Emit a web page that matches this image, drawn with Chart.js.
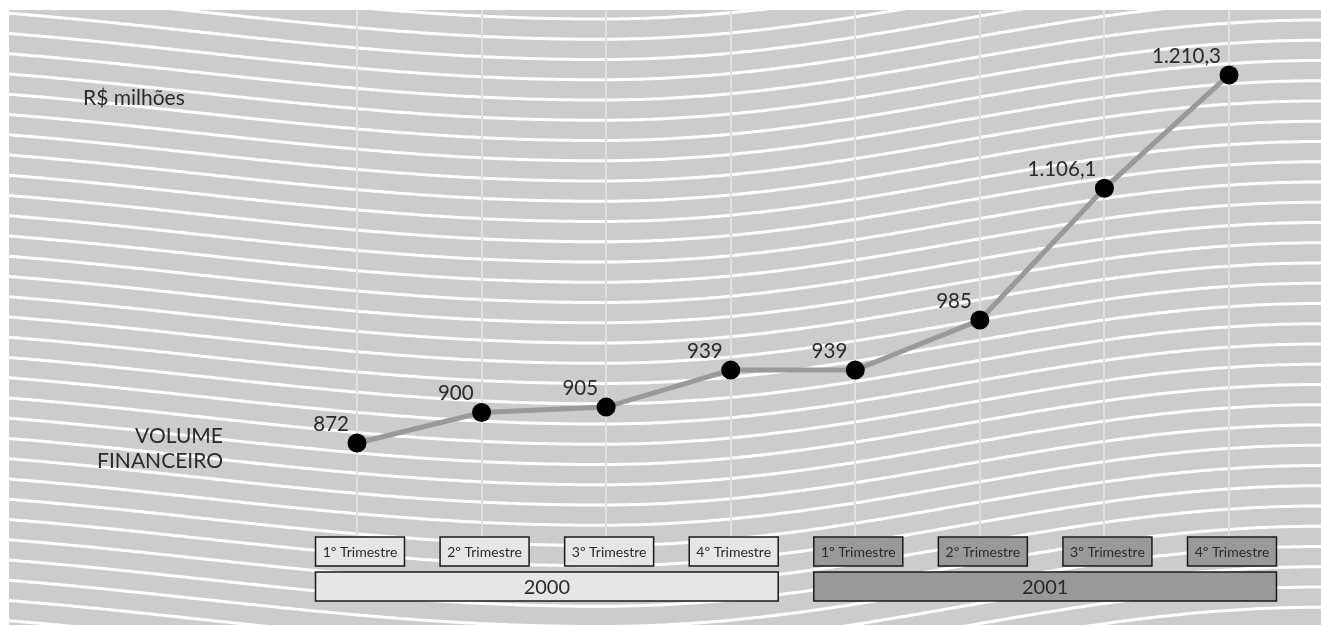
<!DOCTYPE html>
<html>
<head>
<meta charset="utf-8">
<script src="https://cdn.jsdelivr.net/npm/chart.js@4.4.1/dist/chart.umd.min.js"></script>
<style>
  html, body { margin: 0; padding: 0; background: #ffffff; }
  #c { display: block; }
</style>
</head>
<body>
<canvas id="c" width="1321" height="625"></canvas>
<script>
// ---- data ----
const quarters = ['1º Trimestre', '2º Trimestre', '3º Trimestre', '4º Trimestre',
                  '1º Trimestre', '2º Trimestre', '3º Trimestre', '4º Trimestre'];
const years = ['2000', '2001'];
const quartersPerYear = 4;
const volume = [872, 900, 905, 939, 939, 985, 1106.1, 1210.3];
const unitLabel = 'R$ milhões';
const seriesLabel = ['VOLUME', 'FINANCEIRO'];

const FONT = 'Lato, "Open Sans", "Noto Sans", sans-serif';
const TEXT = '#2a2a2a';

function fmtBR(v) {
  const neg = v < 0; v = Math.abs(v);
  let intPart = Math.floor(v), dec = Math.round((v - intPart) * 10);
  if (dec === 10) { intPart += 1; dec = 0; }
  const s = String(intPart).replace(/\B(?=(\d{3})+(?!\d))/g, '.');
  return (neg ? '-' : '') + s + (Number.isInteger(v) ? '' : ',' + dec);
}

function waveOff(x) {
  if (x < 600) {
    const u = Math.min((600 - x) / 800, 1);
    return -55 * (1 - Math.cos(Math.PI * u)) / 2;
  } else {
    const u = Math.min((x - 600) / 720, 1);
    return -80 * (1 - Math.cos(Math.PI * u)) / 2;
  }
}

const backgroundPlugin = {
  id: 'bg',
  beforeDraw(chart) {
    const ctx = chart.ctx;
    const W = chart.width, H = chart.height;
    ctx.save();
    ctx.fillStyle = '#ffffff';
    ctx.fillRect(0, 0, W, H);
    const rx = 9, ry = 10, rw = W - 9, rh = H - 10;
    ctx.fillStyle = '#cccccc';
    ctx.fillRect(rx, ry, rw, rh);
    ctx.beginPath();
    ctx.rect(rx, ry, rw, rh);
    ctx.clip();
    ctx.strokeStyle = '#ffffff';
    ctx.lineWidth = 3;
    for (let k = -2; k < 40; k++) {
      const c = 19 + 20.25 * k;
      ctx.beginPath();
      for (let x = 0; x <= W + 4; x += 4) {
        const y = c + waveOff(x);
        if (x === 0) ctx.moveTo(x, y); else ctx.lineTo(x, y);
      }
      ctx.stroke();
    }
    ctx.restore();
  }
};

const overlayPlugin = {
  id: 'overlay',
  afterDraw(chart) {
    const ctx = chart.ctx;
    const xs = chart.scales.x;
    const meta = chart.getDatasetMeta(0);
    ctx.save();

    // value labels
    ctx.fillStyle = TEXT;
    ctx.font = '20.5px ' + FONT;
    ctx.textAlign = 'right';
    ctx.textBaseline = 'middle';
    meta.data.forEach((pt, i) => {
      ctx.fillText(fmtBR(volume[i]), pt.x - 8, pt.y - 19);
    });

    // side texts
    ctx.font = '21px ' + FONT;
    ctx.textAlign = 'left';
    ctx.fillText(unitLabel, 83, 98);
    ctx.textAlign = 'right';
    ctx.fillText(seriesLabel[0], 223, 436);
    ctx.fillText(seriesLabel[1], 223, 461);

    // category boxes
    const bw = 89, bh = 29, btop = 537;
    const fills = ['#e6e6e6', '#999999'];
    ctx.lineWidth = 1.5;
    ctx.strokeStyle = '#1a1a1a';
    quarters.forEach((q, i) => {
      const cx = xs.getPixelForValue(i) + 3;
      const g = Math.floor(i / quartersPerYear);
      ctx.fillStyle = fills[g];
      ctx.fillRect(cx - bw / 2, btop, bw, bh);
      ctx.strokeRect(cx - bw / 2, btop, bw, bh);
      ctx.fillStyle = TEXT;
      ctx.font = '14px ' + FONT;
      ctx.textAlign = 'center';
      ctx.textBaseline = 'middle';
      ctx.fillText(q, cx, btop + bh / 2 + 1);
    });

    // year boxes
    const ytop = 572, yh = 29;
    years.forEach((y, g) => {
      const first = g * quartersPerYear, last = first + quartersPerYear - 1;
      const x0 = xs.getPixelForValue(first) + 3 - bw / 2;
      const x1 = xs.getPixelForValue(last) + 3 + bw / 2;
      ctx.fillStyle = fills[g];
      ctx.fillRect(x0, ytop, x1 - x0, yh);
      ctx.strokeRect(x0, ytop, x1 - x0, yh);
      ctx.fillStyle = TEXT;
      ctx.font = '20px ' + FONT;
      ctx.textAlign = 'center';
      ctx.textBaseline = 'middle';
      ctx.fillText(y, (x0 + x1) / 2, ytop + yh / 2 + 1);
    });
    ctx.restore();
  }
};

new Chart(document.getElementById('c'), {
  type: 'line',
  data: {
    labels: quarters,
    datasets: [{
      data: volume,
      borderColor: '#999999',
      borderWidth: 5,
      pointRadius: 9.5,
      pointHoverRadius: 9.5,
      pointBackgroundColor: '#000000',
      pointBorderWidth: 0,
      tension: 0,
      clip: false
    }]
  },
  options: {
    responsive: false,
    animation: false,
    devicePixelRatio: 1,
    layout: { padding: { left: 357, right: 92, top: 10, bottom: 88 } },
    plugins: { legend: { display: false }, tooltip: { enabled: false } },
    scales: {
      x: {
        offset: false,
        ticks: { display: false },
        grid: { color: '#e0e0e0', lineWidth: 2, drawTicks: false },
        border: { display: false }
      },
      y: {
        display: false,
        min: 785.6,
        max: 1270
      }
    }
  },
  plugins: [backgroundPlugin, overlayPlugin]
});
</script>
</body>
</html>
